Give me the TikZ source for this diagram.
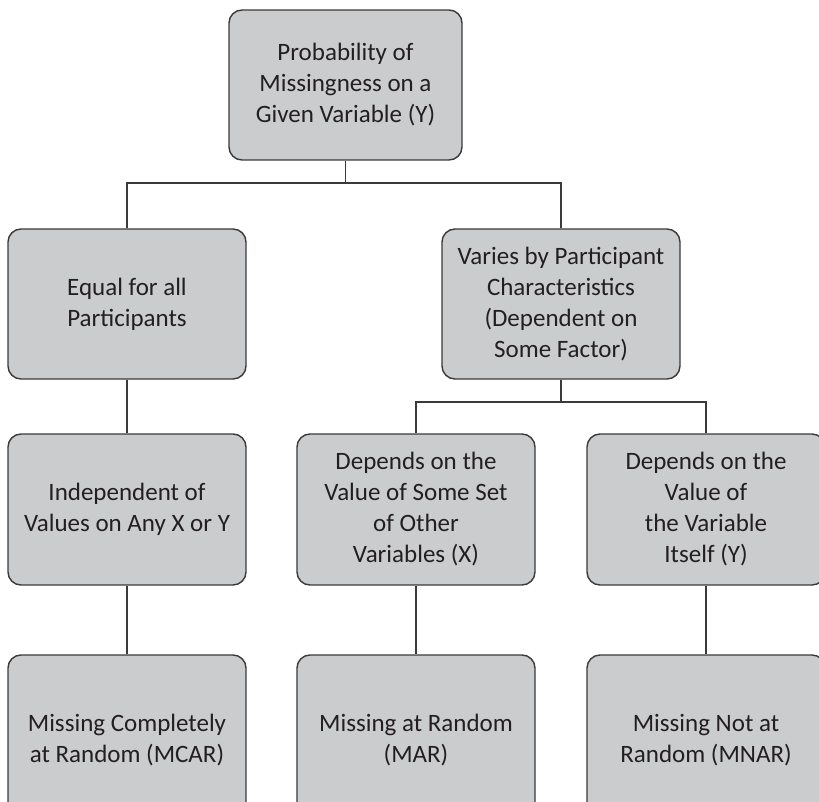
\documentclass[tikz,border=0pt]{standalone}
\usepackage{fontspec}
\setmainfont{Carlito}
\definecolor{boxgray}{HTML}{CBCCCE}
\definecolor{linecol}{HTML}{3A3A3A}
\definecolor{txtcol}{HTML}{231F20}
\begin{document}
\begin{tikzpicture}[x=1pt,y=-1pt,
  box/.style={draw=linecol, fill=boxgray, line width=1.4pt, rounded corners=13pt,
    minimum width=238pt, minimum height=150pt, align=center, text=txtcol,
    font=\fontsize{25}{31}\selectfont, inner sep=0pt},
  conn/.style={draw=linecol, line width=1.4pt}]
\useasboundingbox (0,0) rectangle (819,802);
\clip (0,0) rectangle (819,802);
\node[box, minimum width=233pt] (top) at (345.5,85) {Probability of\\Missingness on a\\Given Variable (Y)};
\node[box] (l2a) at (127,304) {Equal for all\\Participants};
\node[box] (l2b) at (561,304) {Varies by Participant\\Characteristics\\(Dependent on\\Some Factor)};
\node[box, minimum height=151pt] (l3a) at (127,509.5) {Independent of\\Values on Any X or Y};
\node[box, minimum height=151pt] (l3b) at (416,509.5) {Depends on the\\Value of Some Set\\of Other\\Variables (X)};
\node[box, minimum height=151pt] (l3c) at (706,509.5) {Depends on the\\Value of\\the Variable\\Itself (Y)};
\node[box, minimum height=170pt] (l4a) at (127,740) {Missing Completely\\at Random (MCAR)};
\node[box, minimum height=170pt] (l4b) at (416,740) {Missing at Random\\(MAR)};
\node[box, minimum height=170pt] (l4c) at (706,740) {Missing Not at\\Random (MNAR)};
\coordinate (bus1) at (345.5,183);
\coordinate (bus2) at (561,402);
\draw[conn] (top.south) -- (bus1);
\draw[conn] (l2a.north) |- (bus1) -| (l2b.north);
\draw[conn] (l2b.south) -- (bus2);
\draw[conn] (l3b.north) |- (bus2) -| (l3c.north);
\draw[conn] (l2a.south) -- (l3a.north);
\draw[conn] (l3a.south) -- (l4a.north);
\draw[conn] (l3b.south) -- (l4b.north);
\draw[conn] (l3c.south) -- (l4c.north);
\end{tikzpicture}
\end{document}
